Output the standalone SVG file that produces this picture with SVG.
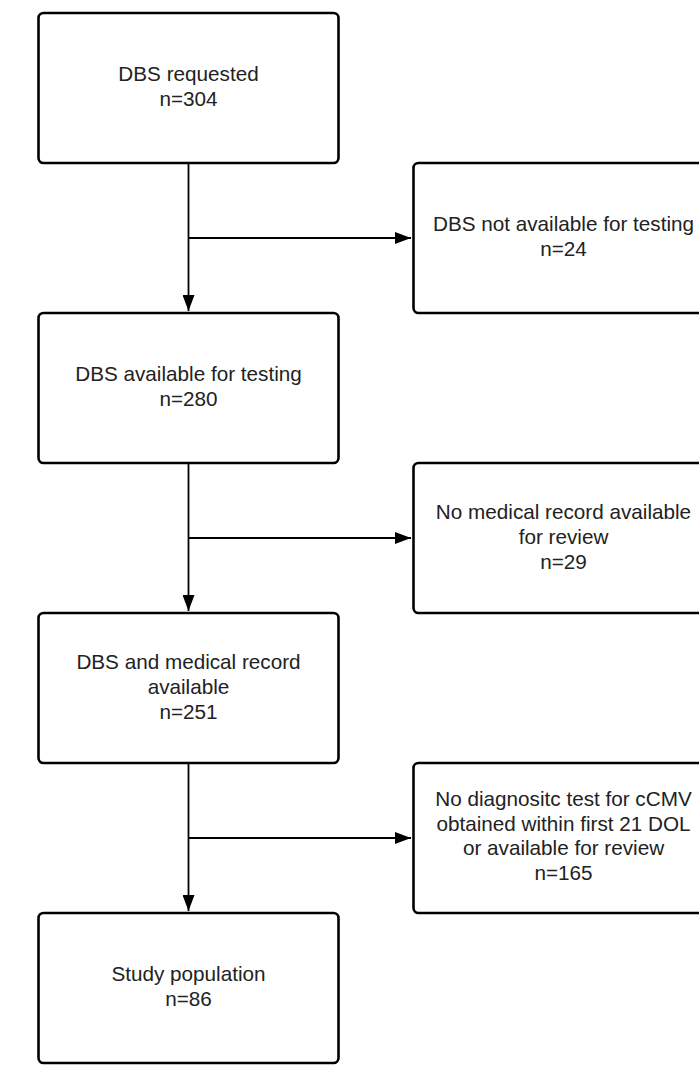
<svg xmlns="http://www.w3.org/2000/svg" width="699" height="1065" viewBox="0 0 699 1065">
<style>
.box{fill:#fff;stroke:#000;stroke-width:2.6}
.lbl{font-family:"Liberation Sans",Arial,sans-serif;font-size:20.7px;fill:#222;text-anchor:middle}
.con{fill:none;stroke:#000;stroke-width:1.8}
</style>
<defs>
<marker id="ah" viewBox="0 0 16 12" refX="16" refY="6" markerWidth="16" markerHeight="12" markerUnits="userSpaceOnUse" orient="auto">
<path d="M0,0 L16,6 L0,12 Z" fill="#000"/>
</marker>
</defs>
<rect width="699" height="1065" fill="#fff"/>
<g id="connectors">
<path class="con" d="M188.5,163 V311" marker-end="url(#ah)"/>
<path class="con" d="M188.5,238 H411" marker-end="url(#ah)"/>
<path class="con" d="M188.5,463 V611" marker-end="url(#ah)"/>
<path class="con" d="M188.5,538 H411" marker-end="url(#ah)"/>
<path class="con" d="M188.5,763 V911" marker-end="url(#ah)"/>
<path class="con" d="M188.5,838 H411" marker-end="url(#ah)"/>
</g>
<g id="n1">
<rect class="box" x="38.5" y="13" width="300" height="150" rx="5"/>
<text class="lbl" x="188.5" y="81">DBS requested</text>
<text class="lbl" x="188.5" y="106">n=304</text>
</g>
<g id="n2">
<rect class="box" x="413.5" y="163" width="300" height="150" rx="5"/>
<text class="lbl" x="563.5" y="231">DBS not available for testing</text>
<text class="lbl" x="563.5" y="256">n=24</text>
</g>
<g id="n3">
<rect class="box" x="38.5" y="313" width="300" height="150" rx="5"/>
<text class="lbl" x="188.5" y="381">DBS available for testing</text>
<text class="lbl" x="188.5" y="406">n=280</text>
</g>
<g id="n4">
<rect class="box" x="413.5" y="463" width="300" height="150" rx="5"/>
<text class="lbl" x="563.5" y="519">No medical record available</text>
<text class="lbl" x="563.5" y="544">for review</text>
<text class="lbl" x="563.5" y="569">n=29</text>
</g>
<g id="n5">
<rect class="box" x="38.5" y="613" width="300" height="150" rx="5"/>
<text class="lbl" x="188.5" y="669">DBS and medical record</text>
<text class="lbl" x="188.5" y="694">available</text>
<text class="lbl" x="188.5" y="719">n=251</text>
</g>
<g id="n6">
<rect class="box" x="413.5" y="763" width="300" height="150" rx="5"/>
<text class="lbl" x="563.5" y="806">No diagnositc test for cCMV</text>
<text class="lbl" x="563.5" y="831">obtained within first 21 DOL</text>
<text class="lbl" x="563.5" y="855">or available for review</text>
<text class="lbl" x="563.5" y="880">n=165</text>
</g>
<g id="n7">
<rect class="box" x="38.5" y="913" width="300" height="150" rx="5"/>
<text class="lbl" x="188.5" y="981">Study population</text>
<text class="lbl" x="188.5" y="1006">n=86</text>
</g>
</svg>
